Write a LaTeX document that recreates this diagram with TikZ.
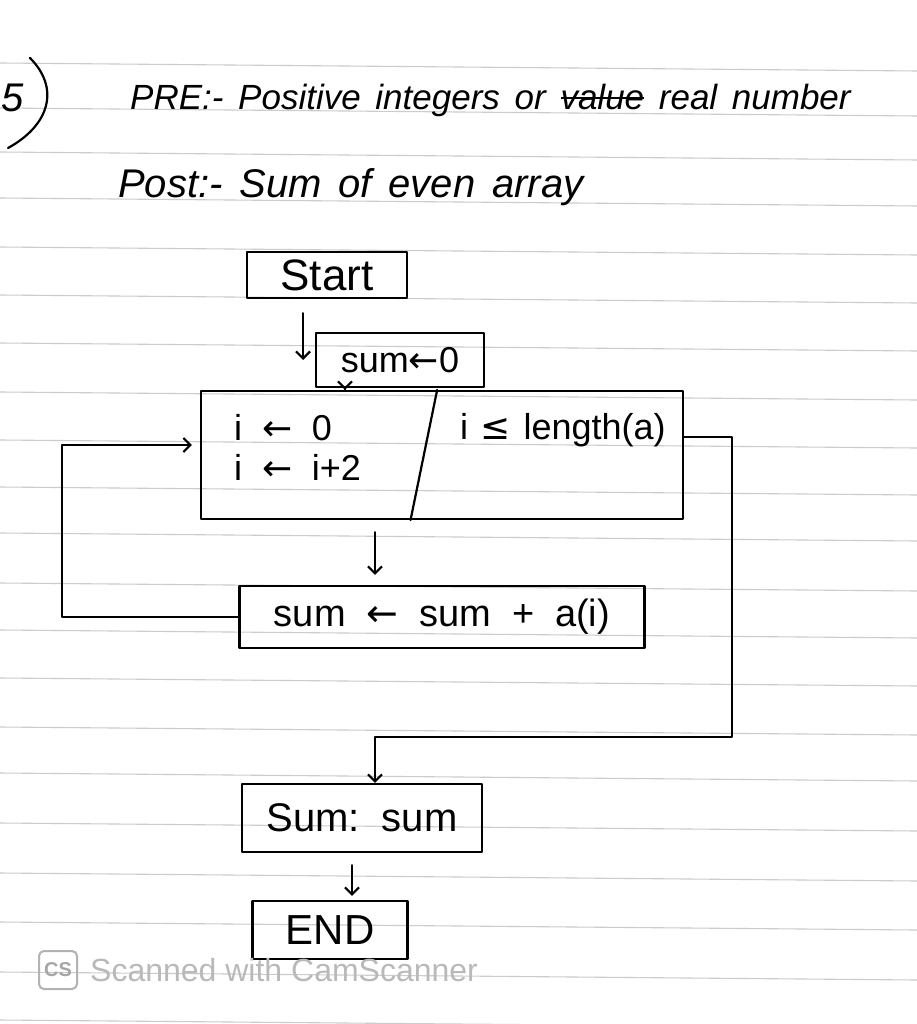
\documentclass[tikz,border=0pt]{standalone}
\usepackage{fontspec}
\setmainfont{Liberation Sans}
\newfontfamily\symfont{DejaVu Sans}
\usetikzlibrary{arrows.meta,calc}
\newcommand\struckword[1]{\setbox0\hbox{#1}\rlap{\rule[0.3em]{\wd0}{0.07em}}\box0\relax}
\newcommand\larr{{\symfont ←}}
\newcommand\lesseq{{\symfont ≤}}
\newcommand\wg{\hspace{0.55em}}
\newcommand\hg{\hspace{0.42em}}
\begin{document}
\begin{tikzpicture}[x=1pt,y=-1pt,
  rule/.style={draw=gray!40,line width=1.1pt},
  ink/.style={line width=2.2pt,black,line cap=round,line join=round},
  flowbox/.style={ink,draw,rectangle,inner sep=0pt,font=\fontsize{36}{40}\selectfont},
  flowarrow/.style={ink,-{Straight Barb[length=7pt,width=14pt]}},
  txt/.style={inner sep=0pt,font=\fontsize{36}{40}\selectfont},
  hand/.style={inner sep=0pt,anchor=base west,font=\fontsize{35}{42}\selectfont\itshape}]
\useasboundingbox (0,0) rectangle (917,1024);
\fill[white] (0,0) rectangle (917,1024);
% notebook rules
\foreach \y in {63,108,152,198,247,295,343,392,440,487,533,583,630,678,727,773,823,873,922,972,1020}
  \draw[rule] (0,\y) -- (917,\y+8);
% header
\node[hand,font=\fontsize{40}{44}\selectfont\itshape] (qnum) at (1,112) {5};
\draw[ink] (30,58) .. controls (60,88) and (50,125) .. (8,148);
\node[hand] (pre) at (130,110) {PRE:-\hg Positive\hg integers\hg or\hg \struckword{value}\hg real\hg number};
\node[hand,font=\fontsize{40}{46}\selectfont\itshape] (post) at (118,198) {Post:-\hg Sum\hg of\hg even\hg array};
% flow boxes
\node[flowbox,minimum width=160pt,minimum height=46pt,font=\fontsize{44}{48}\selectfont] (start) at (327,275) {Start};
\node[flowbox,minimum width=168pt,minimum height=54pt] (sumzero) at (400,360) {sum\larr 0};
\node[flowbox,minimum width=482pt,minimum height=128pt] (loop) at (442,455) {};
\node[txt,anchor=west] (initA) at (234,428) {i\wg\larr\wg 0};
\node[txt,anchor=west] (initB) at (234,467) {i\wg\larr\wg i+2};
\node[txt,anchor=west] (cond) at (460,430) {i\hspace{0.35em}\lesseq\hspace{0.35em}length(a)};
\node[flowbox,minimum width=405pt,minimum height=62pt,font=\fontsize{38}{44}\selectfont] (body) at (442,617) {sum\wg\larr\wg sum\wg +\wg a(i)};
\node[flowbox,minimum width=240pt,minimum height=68pt,font=\fontsize{40}{44}\selectfont] (out) at (362,818) {Sum:\wg sum};
\node[flowbox,minimum width=155pt,minimum height=58pt,font=\fontsize{42}{46}\selectfont] (end) at (330,930) {END};
% divider of the loop box
\coordinate (dtop) at ($(loop.north west)!0.49!(loop.north east)$);
\coordinate (dbot) at ($(loop.south west)!0.435!(loop.south east)$);
\draw[ink] (dtop) -- (dbot);
% connectors
\coordinate (a1) at ($(start.south)+(-24,14)$);
\draw[flowarrow] (a1) -- (a1 |- sumzero.center);
\coordinate (c1) at (345,0);
\draw[flowarrow,shorten <=-2pt] (sumzero.south -| c1) -- (loop.north -| c1);
\coordinate (c2) at (375,0);
\draw[flowarrow,shorten <=12pt,shorten >=10pt] (loop.south -| c2) -- (body.north -| c2);
\coordinate (lx) at (62,0);
\coordinate (lp) at ($(loop.west)+(0,-10)$);
\draw[flowarrow,shorten >=8pt] (body.west) -- (body.west -| lx) -- (lx |- lp) -- (lp);
\coordinate (e1) at ($(loop.north east)+(0,47)$);
\coordinate (rx) at (732,0);
\coordinate (ey) at (0,737);
\draw[flowarrow] (e1) -- (e1 -| rx) -- (rx |- ey) -- (ey -| c2) -- (out.north -| c2);
\coordinate (c3) at (352,0);
\draw[flowarrow,shorten <=12pt,shorten >=4pt] (out.south -| c3) -- (end.north -| c3);
% scanner watermark
\node[draw=gray!60,line width=2pt,rounded corners=5pt,minimum width=38pt,minimum height=38pt,inner sep=0pt,text=gray!70,font=\fontsize{20}{22}\selectfont\bfseries] (logo) at (58,970) {CS};
\node[inner sep=0pt,anchor=west,text=gray!55,font=\fontsize{32}{35}\selectfont] (mark) at (90,970) {Scanned with CamScanner};
\end{tikzpicture}
\end{document}
